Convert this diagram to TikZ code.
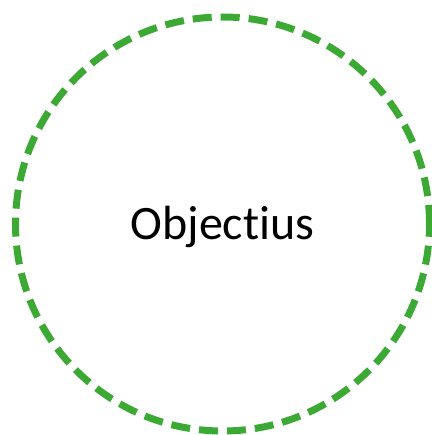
\documentclass[tikz,border=0pt]{standalone}
\usepackage{fontspec}
\setmainfont[Ligatures=NoCommon]{Carlito}
\definecolor{goalgreen}{RGB}{61,169,53}
\begin{document}
\begin{tikzpicture}[x=1pt,y=-1pt,
        goal/.style={circle, draw=goalgreen, line width=7pt, dash pattern=on 19pt off 9pt, minimum size=414pt, inner sep=0pt, font=\fontsize{48}{56}\selectfont, text height=38pt, text depth=8pt}
    ]
        \useasboundingbox (0,0) rectangle (431,435);
        \node[goal] (objectius) at (222.5,224) {Objectius};
    \end{tikzpicture}
\end{document}
